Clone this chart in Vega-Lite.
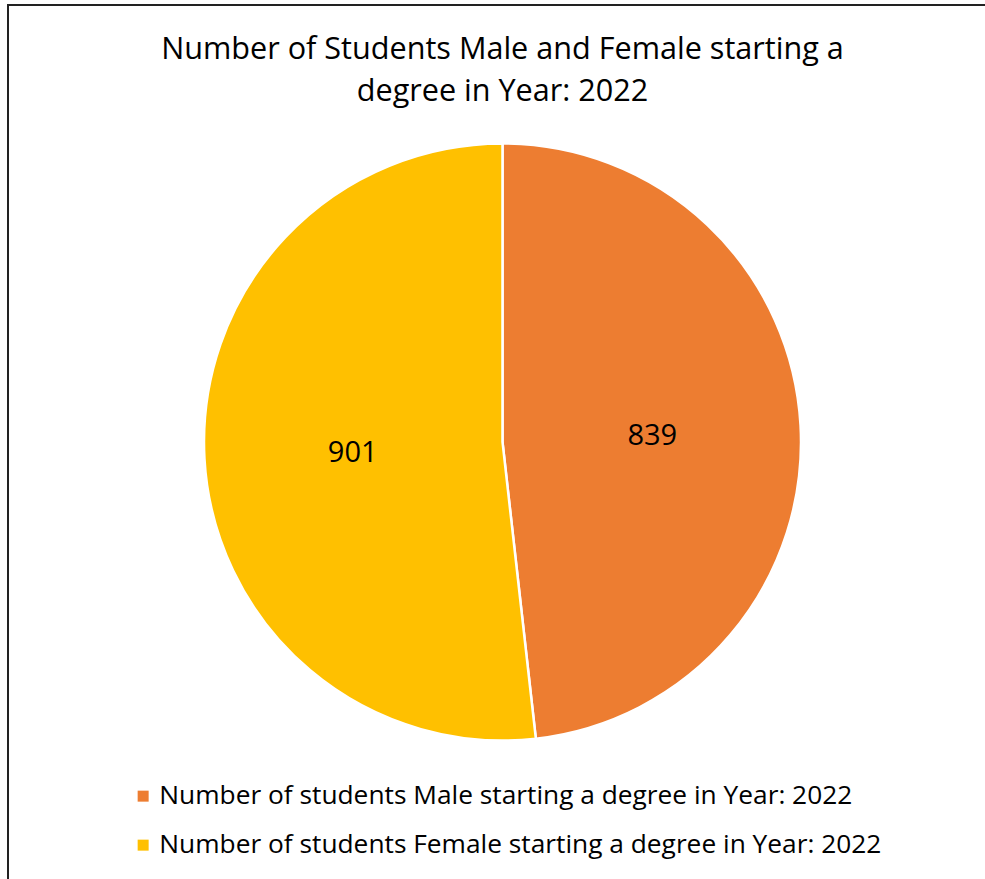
{
  "$schema": "https://vega.github.io/schema/vega-lite/v6.json",
  "width": 985,
  "height": 879,
  "autosize": {"type": "fit", "contains": "padding"},
  "padding": {"left": 8, "top": 5, "right": -4, "bottom": -4},
  "background": "white",
  "view": {"stroke": "#222222", "strokeWidth": 2, "fill": "white"},
  "config": {
    "view": {"stroke": "#222222", "strokeWidth": 2},
    "font": "Open Sans"
  },
  "title": {
    "text": ["Number of Students Male and Female starting a", "degree in Year: 2022"],
    "anchor": "middle",
    "orient": "top",
    "frame": "group",
    "font": "Open Sans",
    "fontSize": 30.6,
    "fontWeight": "normal",
    "color": "#000000",
    "lineHeight": 42,
    "baseline": "top",
    "offset": -103,
    "dx": 4
  },
  "data": {
    "values": [
      {"category": "Number of students Male starting a degree in Year: 2022", "value": 839, "order": 1},
      {"category": "Number of students Female starting a degree in Year: 2022", "value": 901, "order": 2}
    ]
  },
  "encoding": {
    "theta": {"field": "value", "type": "quantitative", "stack": true},
    "order": {"field": "order", "type": "quantitative"},
    "color": {
      "field": "category",
      "type": "nominal",
      "sort": ["Number of students Male starting a degree in Year: 2022", "Number of students Female starting a degree in Year: 2022"],
      "scale": {
        "domain": ["Number of students Male starting a degree in Year: 2022", "Number of students Female starting a degree in Year: 2022"],
        "range": ["#ED7D31", "#FFC000"]
      },
      "legend": {
        "orient": "none",
        "legendX": 122,
        "legendY": 778,
        "title": null,
        "symbolType": "square",
        "symbolSize": 121,
        "symbolStrokeWidth": 0,
        "labelFont": "Open Sans",
        "labelFontSize": 26.3,
        "labelColor": "#000000",
        "labelOffset": 3,
        "labelLimit": 900,
        "rowPadding": 22,
        "direction": "vertical"
      }
    }
  },
  "layer": [
    {
      "mark": {"type": "arc", "outerRadius": 298.5, "stroke": "white", "strokeWidth": 2.5, "xOffset": 4, "yOffset": -2}
    },
    {
      "mark": {"type": "text", "radius": 150, "fontSize": 29, "font": "Open Sans", "color": "#000000", "xOffset": 4, "yOffset": 0.5},
      "encoding": {
        "text": {"field": "value", "type": "quantitative"},
        "color": {"value": "#000000"}
      }
    }
  ]
}
